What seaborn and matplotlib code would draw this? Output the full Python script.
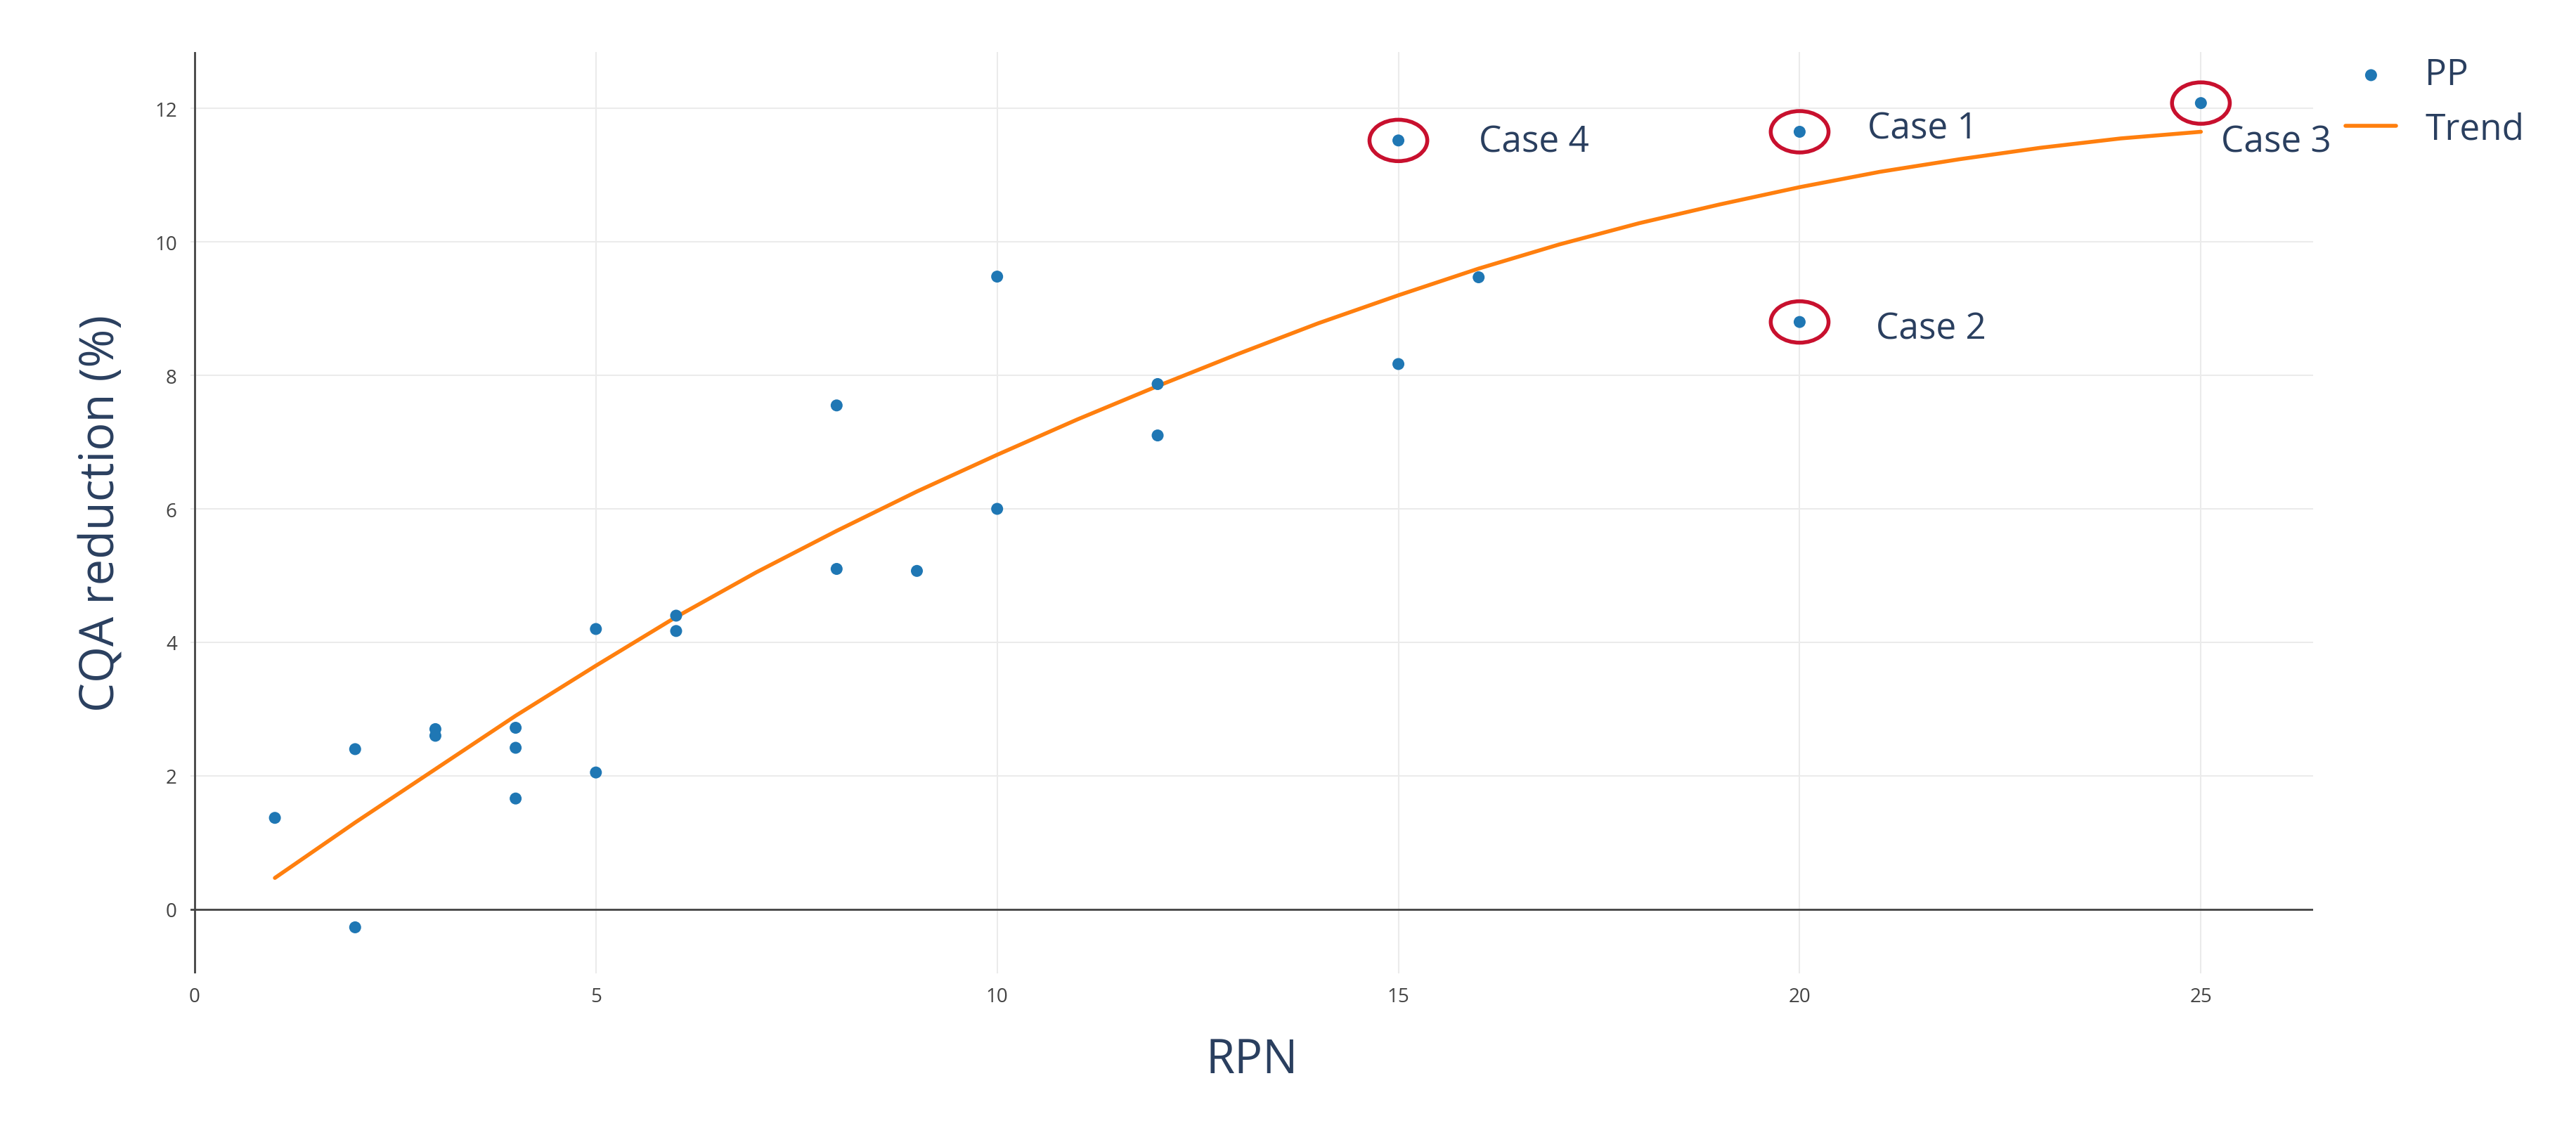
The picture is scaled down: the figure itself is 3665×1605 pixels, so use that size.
import matplotlib
matplotlib.use("Agg")
import matplotlib.pyplot as plt
import seaborn as sns
import pandas as pd
from matplotlib.patches import Ellipse

rpn = [1, 2, 2, 3, 3, 4, 4, 4, 5, 5, 6, 6, 8, 8, 9, 10, 10, 12, 12, 15, 15, 16, 20, 20, 25]
cqa = [1.37, 2.4, -0.27, 2.7, 2.6, 2.72, 2.42, 1.66, 4.2, 2.05, 4.4, 4.17, 7.55, 5.1, 5.07,
       9.48, 6.0, 7.87, 7.1, 11.52, 8.17, 9.47, 11.65, 8.8, 12.08]
trend_x = list(range(1, 26))
trend_y = [0.47, 1.3, 2.1, 2.9, 3.65, 4.38, 5.05, 5.67, 6.26, 6.81, 7.34, 7.84, 8.32, 8.78,
           9.2, 9.6, 9.96, 10.28, 10.56, 10.82, 11.05, 11.24, 11.41, 11.55, 11.65]
cases = ["Case 4", "Case 1", "Case 3", "Case 2"]
case_x = [15, 20, 25, 20]
case_y = [11.52, 11.65, 12.08, 8.8]
label_x = [16.0, 20.85, 25.25, 20.95]
label_y = [11.5, 11.7, 11.5, 8.7]

sns.set_theme(style="white")
plt.rcParams['font.family'] = ['Open Sans', 'DejaVu Sans']
fig = plt.figure(figsize=(36.65, 16.06), dpi=100)
ax = fig.add_axes([0.074, 0.137, 0.824, 0.816])

ax.grid(True, color="#ebebeb", lw=1.5)
ax.set_axisbelow(True)
for s in ax.spines.values():
    s.set_visible(False)
ax.axhline(0, color="#444444", lw=2, zorder=1)
ax.axvline(0, color="#444444", lw=2, zorder=1)

sns.lineplot(x=trend_x, y=trend_y, ax=ax, color="#ff7f0e", lw=4, label="Trend", zorder=2)
sns.scatterplot(x=rpn, y=cqa, ax=ax, color="#1f77b4", s=150, edgecolor="none", label="PP", zorder=3)

for c, cx, cy, lx, ly in zip(cases, case_x, case_y, label_x, label_y):
    ax.add_patch(Ellipse((cx, cy), 0.72, 0.62, fill=False, ec="#c8102e", lw=4, zorder=4))
    ax.text(lx, ly, c, fontsize=37, color="#2a3f5f", va="center", ha="left")

ax.set_xlim(-0.05, 26.4)
ax.set_ylim(-0.96, 12.84)
ax.set_xticks([0, 5, 10, 15, 20, 25])
ax.set_yticks([0, 2, 4, 6, 8, 10, 12])
ax.tick_params(labelsize=20, colors="#444444", length=0, pad=14)
ax.set_xlabel("RPN", fontsize=48, color="#2a3f5f", labelpad=30)
ax.set_ylabel("CQA reduction (%)", fontsize=48, color="#2a3f5f", labelpad=30)

h, l = ax.get_legend_handles_labels()
order = [l.index("PP"), l.index("Trend")]
ax.legend([h[i] for i in order], [l[i] for i in order], loc="upper left",
          bbox_to_anchor=(1.0, 1.03), frameon=False, fontsize=37, markerscale=1.0,
          handlelength=1.4, labelcolor="#2a3f5f")

fig.savefig("out.png", dpi=100)
